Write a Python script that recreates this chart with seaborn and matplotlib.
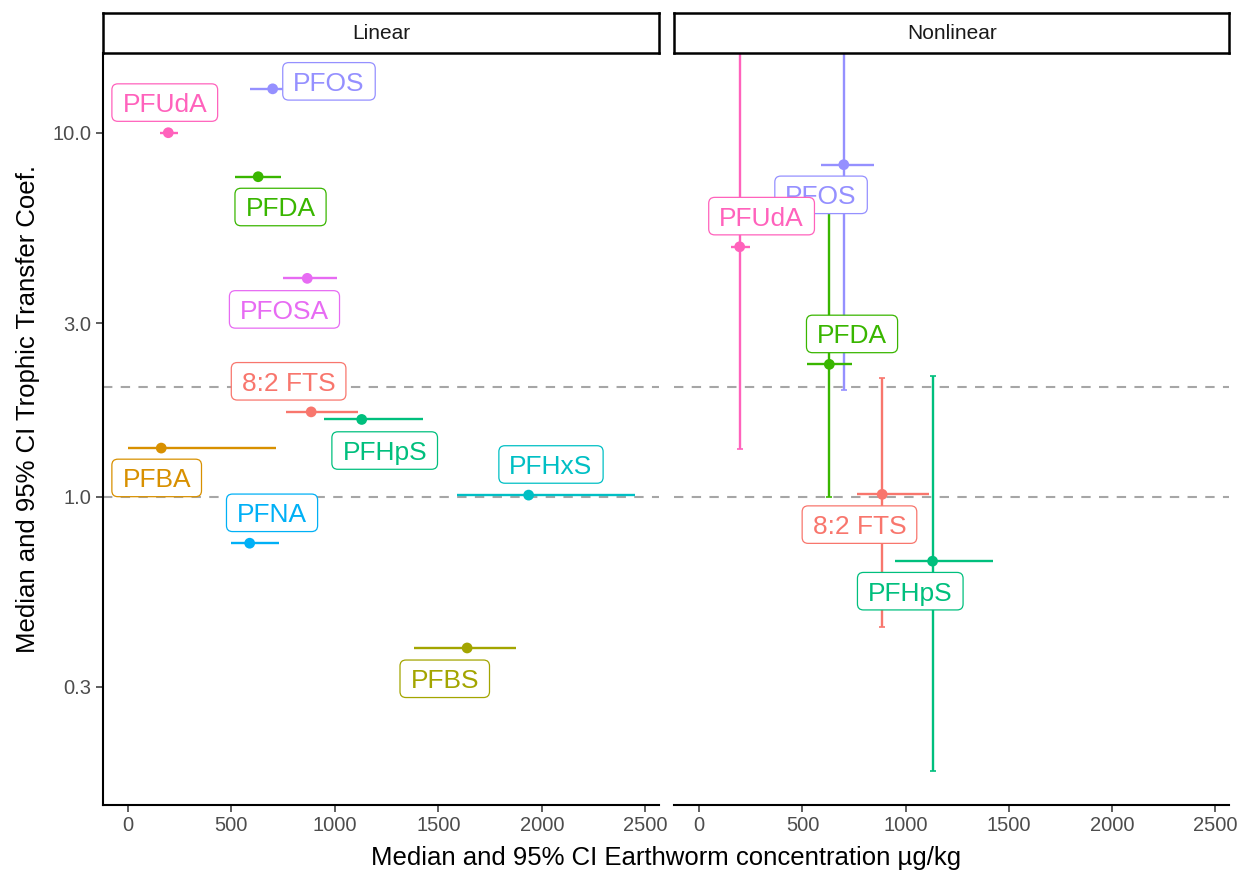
import numpy as np
import pandas as pd
import matplotlib
matplotlib.use("Agg")
import matplotlib.pyplot as plt
from matplotlib.ticker import NullLocator
from matplotlib.patches import FancyBboxPatch
from matplotlib.transforms import IdentityTransform, ScaledTranslation
import seaborn as sns

# ---- data -------------------------------------------------------------
compounds = ["8:2 FTS", "PFBA", "PFBS", "PFDA", "PFHpS",
             "PFHxS", "PFNA", "PFOS", "PFOSA", "PFUdA"]

# earthworm concentration (µg/kg): median and 95% CI
worm_median = [886, 162, 1639, 630, 1130, 1936, 589, 700, 867, 196]
worm_low = [765, 3, 1381, 520, 946, 1588, 501, 590, 751, 156]
worm_high = [1111, 717, 1877, 741, 1425, 2448, 729, 845, 1009, 244]

# trophic transfer coefficient, linear model (median)
ttc_linear = [1.71, 1.36, 0.384, 7.57, 1.63, 1.01, 0.745, 13.2, 3.98, 10.0]

# trophic transfer coefficient, nonlinear model (median and 95% CI)
nl_compounds = ["PFUdA", "PFOS", "PFDA", "8:2 FTS", "PFHpS"]
nl_ttc_median = [4.86, 8.17, 2.31, 1.015, 0.665]
nl_ttc_low = [1.35, 1.96, 1.00, 0.438, 0.176]
nl_ttc_high = [35.0, 40.0, 6.7, 2.12, 2.14]

reference_levels = [1.0, 2.0]
y_ticks = [0.3, 1.0, 3.0, 10.0]
y_tick_labels = ["0.3", "1.0", "3.0", "10.0"]
x_ticks = [0, 500, 1000, 1500, 2000, 2500]
panel_titles = ["Linear", "Nonlinear"]

# ggplot-style hue colours, one per compound
hue_colors = ["#F8766D", "#D89000", "#A3A500", "#39B600", "#00BF7D",
              "#00BFC4", "#00B0F6", "#9590FF", "#E76BF3", "#FF62BC"]
palette = dict(zip(compounds, hue_colors))

# ---- tables -----------------------------------------------------------
worm = pd.DataFrame({"compound": compounds, "x": worm_median,
                     "xlo": worm_low, "xhi": worm_high}).set_index("compound")

lin = worm.copy()
lin["y"] = ttc_linear
lin = lin.reset_index()

nl = worm.loc[nl_compounds].copy()
nl["y"] = nl_ttc_median
nl["ylo"] = nl_ttc_low
nl["yhi"] = nl_ttc_high
nl = nl.reset_index()

# label anchor points (repelled placement) in data units
label_pos_linear = {
    "PFUdA": (179, 12.1), "PFOS": (972, 13.84), "PFDA": (738, 6.25),
    "PFOSA": (757, 3.27), "8:2 FTS": (777, 2.075), "PFHpS": (1241, 1.339),
    "PFBA": (140, 1.126), "PFNA": (697, 0.903), "PFHxS": (2044, 1.226),
    "PFBS": (1531, 0.316),
}
label_pos_nonlinear = {
    "PFOS": (590, 6.75), "PFUdA": (302, 5.90), "PFDA": (740, 2.80),
    "8:2 FTS": (776, 0.838), "PFHpS": (1022, 0.55),
}

# ---- styling ----------------------------------------------------------
sns.set_style("white")
plt.rcParams["font.family"] = ["Liberation Sans", "DejaVu Sans"]

W, H = 1242, 872
DPI = 100
fig = plt.figure(figsize=(W / DPI, H / DPI), dpi=DPI)


def px_axes(x0, x1, y0, y1):
    return fig.add_axes([x0 / W, 1 - y1 / H, (x1 - x0) / W, (y1 - y0) / H])


ax_lin = px_axes(102.7, 659.3, 52.7, 805)
ax_nl = px_axes(674.3, 1229.3, 52.7, 805)
strip_lin = px_axes(102.7, 659.3, 12.7, 52.7)
strip_nl = px_axes(674.3, 1229.3, 12.7, 52.7)

XLIM = (-120.7, 2567)
YLIM = (0.1422, 16.59)

LABEL_FS = 19          # points
LABEL_PAD_X = 10.5     # pixels
LABEL_BOX_H = 37.5     # pixels
CAP_FRAC = 0.716       # cap height / font size


def style_panel(ax, show_y):
    ax.set_yscale("log")
    ax.set_xlim(*XLIM)
    ax.set_ylim(*YLIM)
    ax.set_xticks(x_ticks)
    ax.set_xticklabels([str(t) for t in x_ticks])
    ax.set_yticks(y_ticks)
    ax.set_yticklabels(y_tick_labels)
    ax.yaxis.set_minor_locator(NullLocator())
    for side in ["top", "right"]:
        ax.spines[side].set_visible(False)
    for side in ["bottom", "left"]:
        ax.spines[side].set_linewidth(1.5)
        ax.spines[side].set_color("black")
    ax.tick_params(axis="both", which="major", length=4.7, width=1.1,
                   color="#333333", labelsize=14.5, labelcolor="#4D4D4D",
                   pad=3.5, bottom=True, left=show_y)
    if not show_y:
        ax.spines["left"].set_visible(False)
        ax.tick_params(axis="y", left=False, labelleft=False)
    ax.grid(False)
    for lvl in reference_levels:
        ax.axhline(lvl, color="#A6A6A6", lw=1.5, dashes=(4.5, 4), zorder=1)


label_artists = []


def draw_labels(ax, positions):
    # text baseline is shifted down by half a cap height so the capitals
    # sit centred on the anchor point
    shift = ScaledTranslation(0, -CAP_FRAC * LABEL_FS / 72 / 2,
                              fig.dpi_scale_trans)
    for i, (name, (lx, ly)) in enumerate(positions.items()):
        c = palette[name]
        t = ax.text(lx, ly, name, ha="center", va="baseline",
                    fontsize=LABEL_FS, color=c, zorder=6 + 0.02 * i + 0.01,
                    transform=ax.transData + shift)
        label_artists.append((ax, t, lx, ly, c, 6 + 0.02 * i))


# Linear panel
style_panel(ax_lin, True)
ax_lin.hlines(lin["y"], lin["xlo"], lin["xhi"],
              colors=[palette[c] for c in lin["compound"]], lw=1.7, zorder=3)
sns.scatterplot(data=lin, x="x", y="y", hue="compound", palette=palette,
                s=60, edgecolor="none", legend=False, ax=ax_lin, zorder=4)
draw_labels(ax_lin, label_pos_linear)

# Nonlinear panel
style_panel(ax_nl, False)
for _, r in nl.iterrows():
    c = palette[r["compound"]]
    ax_nl.errorbar(r["x"], r["y"],
                   yerr=[[r["y"] - r["ylo"]], [r["yhi"] - r["y"]]],
                   fmt="none", ecolor=c, elinewidth=1.7, capsize=2,
                   capthick=1.2, zorder=3)
ax_nl.hlines(nl["y"], nl["xlo"], nl["xhi"],
             colors=[palette[c] for c in nl["compound"]], lw=1.7, zorder=3)
sns.scatterplot(data=nl, x="x", y="y", hue="compound", palette=palette,
                s=60, edgecolor="none", legend=False, ax=ax_nl, zorder=4)
draw_labels(ax_nl, label_pos_nonlinear)

for ax in (ax_lin, ax_nl):
    ax.set_xlabel("")
    ax.set_ylabel("")

# rounded label boxes sized from the rendered text
fig.canvas.draw()
renderer = fig.canvas.get_renderer()
for ax, t, lx, ly, c, z in label_artists:
    bb = t.get_window_extent(renderer)
    cx, cy = ax.transData.transform((lx, ly))
    w = bb.width + 2 * LABEL_PAD_X
    box = FancyBboxPatch((cx - w / 2, cy - LABEL_BOX_H / 2), w, LABEL_BOX_H,
                         boxstyle="round,pad=0,rounding_size=6",
                         transform=IdentityTransform(), fc="white", ec=c,
                         lw=0.9, zorder=z, clip_on=False)
    ax.add_artist(box)

# facet strips
for sax, title in zip([strip_lin, strip_nl], panel_titles):
    sax.set_xticks([])
    sax.set_yticks([])
    sax.set_facecolor("white")
    for sp in sax.spines.values():
        sp.set_visible(True)
        sp.set_linewidth(1.8)
        sp.set_color("black")
    sax.text(0.5, 0.47, title, ha="center", va="center", fontsize=15,
             color="#1A1A1A", transform=sax.transAxes)

# axis titles
fig.text(666 / W, 1 - 865 / H, "Median and 95% CI Earthworm concentration µg/kg",
         ha="center", va="baseline", fontsize=18.5, color="black")
fig.text(28 / W, 1 - 409 / H, "Median and 95% CI Trophic Transfer Coef.",
         ha="center", va="center", rotation=90, fontsize=18.5, color="black")

fig.savefig("out.png", dpi=DPI, facecolor="white")
